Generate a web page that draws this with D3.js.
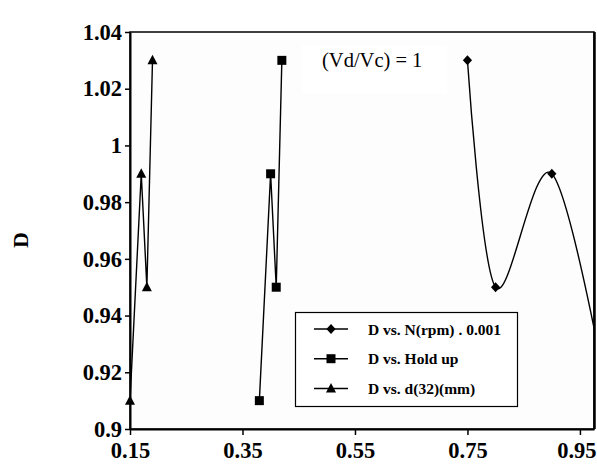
<!DOCTYPE html>
<html>
<head>
<meta charset="utf-8">
<script src="https://cdn.jsdelivr.net/npm/d3@7"></script>
<style>
  html, body { margin: 0; padding: 0; background: #ffffff; }
  svg { display: block; }
  text { font-family: "Liberation Serif", "Times New Roman", serif; fill: #000; }
</style>
</head>
<body>
<svg id="chart" width="597" height="464"></svg>
<script>
// D measured against three different variables
const dValues = [0.91, 0.99, 0.95, 1.03];
const rpmScaled = [1.00, 0.90, 0.80, 0.75];   // N(rpm) . 0.001
const holdUp = [0.38, 0.40, 0.41, 0.42];
const d32 = [0.15, 0.17, 0.18, 0.19];          // d(32) in mm

const seriesNames = ["D vs. N(rpm) . 0.001", "D vs. Hold up", "D vs. d(32)(mm)"];
const seriesMarkers = ["diamond", "square", "triangle"];
const seriesSmooth = [true, false, false];

const xTicks = [0.15, 0.35, 0.55, 0.75, 0.95];
const yTicks = [0.9, 0.92, 0.94, 0.96, 0.98, 1, 1.02, 1.04];
const xDomain = [0.15, 0.975];
const yDomain = [0.9, 1.04];
const yTitle = "D";
const note = "(Vd/Vc) = 1";

const W = 597, H = 464;
const plot = { left: 130, right: 594, top: 32, bottom: 429 };

const svg = d3.select("#chart");

const x = d3.scaleLinear().domain(xDomain).range([plot.left, plot.right]);
const y = d3.scaleLinear().domain(yDomain).range([plot.bottom, plot.top]);

svg.append("defs").append("clipPath").attr("id", "plotClip")
  .append("rect")
  .attr("x", plot.left).attr("y", plot.top)
  .attr("width", plot.right - plot.left).attr("height", plot.bottom - plot.top);

// plot frame
svg.append("rect")
  .attr("x", plot.left).attr("y", plot.top)
  .attr("width", plot.right - plot.left).attr("height", plot.bottom - plot.top)
  .attr("fill", "#fdfdfd").attr("stroke", "#000").attr("stroke-width", 1.5);
svg.append("line")
  .attr("x1", plot.right + 0.5).attr("x2", plot.right + 0.5)
  .attr("y1", plot.top).attr("y2", plot.bottom)
  .attr("stroke", "#000").attr("stroke-width", 2.5);

// annotation box
svg.append("rect")
  .attr("x", 302).attr("y", 45).attr("width", 145).attr("height", 48)
  .attr("fill", "#ffffff");
svg.append("text")
  .attr("x", 322).attr("y", 67)
  .style("font-size", "20.5px")
  .text(note);

// axes
const fmtX = d3.format(".2f");
const fmtY = v => String(+v.toFixed(2));

const xAxis = svg.append("g")
  .attr("transform", `translate(0,${plot.bottom})`)
  .call(d3.axisBottom(x).tickValues(xTicks).tickFormat(fmtX)
    .tickSizeInner(6).tickSizeOuter(0).tickPadding(7));

const yAxis = svg.append("g")
  .attr("transform", `translate(${plot.left},0)`)
  .call(d3.axisLeft(y).tickValues(yTicks).tickFormat(fmtY)
    .tickSizeInner(5).tickSizeOuter(0).tickPadding(3));

[xAxis, yAxis].forEach(g => {
  g.select(".domain").attr("stroke", "#000").attr("stroke-width", 2);
  g.selectAll(".tick line").attr("stroke", "#000").attr("stroke-width", 1.5);
  g.selectAll(".tick text")
    .style("font-family", "'Liberation Serif', 'Times New Roman', serif")
    .style("font-weight", "bold")
    .style("font-size", "22.5px")
    .attr("fill", "#000");
});

// keep the last x label inside the canvas
xAxis.selectAll(".tick text").each(function () {
  const box = this.getBBox();
  const tx = x(d3.select(this.parentNode).datum());
  const overflow = tx + box.x + box.width - (W - 1);
  if (overflow > 0) d3.select(this).attr("x", -overflow);
});

svg.append("text")
  .attr("transform", `translate(28,240) rotate(-90)`)
  .attr("text-anchor", "middle")
  .style("font-weight", "bold")
  .style("font-size", "22px")
  .text(yTitle);

// marker shapes, centred on the origin
function markerPath(kind) {
  const p = d3.path();
  if (kind === "diamond") {
    p.moveTo(0, -5); p.lineTo(4.6, 0); p.lineTo(0, 5); p.lineTo(-4.6, 0); p.closePath();
  } else if (kind === "square") {
    p.rect(-4.5, -4.5, 9, 9);
  } else {
    p.moveTo(0, -5.5); p.lineTo(5, 4); p.lineTo(-5, 4); p.closePath();
  }
  return p.toString();
}

const seriesX = [rpmScaled, holdUp, d32];
const series = seriesNames.map((name, i) => ({
  name,
  marker: seriesMarkers[i],
  smooth: seriesSmooth[i],
  points: dValues.map((d, j) => ({ x: seriesX[i][j], y: d }))
}));

const lineGroup = svg.append("g").attr("clip-path", "url(#plotClip)");
series.forEach(s => {
  const gen = d3.line()
    .x(d => x(d.x)).y(d => y(d.y))
    .curve(s.smooth ? d3.curveCardinal.tension(0) : d3.curveLinear);
  lineGroup.append("path")
    .datum(s.points)
    .attr("d", gen)
    .attr("fill", "none")
    .attr("stroke", "#000")
    .attr("stroke-width", 1.4);
});

series.forEach(s => {
  svg.append("g").selectAll("path")
    .data(s.points.filter(d => d.x >= xDomain[0] && d.x <= xDomain[1]))
    .join("path")
    .attr("transform", d => `translate(${x(d.x)},${y(d.y)})`)
    .attr("d", markerPath(s.marker))
    .attr("fill", "#000");
});

// legend
const legend = svg.append("g");
legend.append("rect")
  .attr("x", 295.5).attr("y", 312.5).attr("width", 222).attr("height", 94)
  .attr("fill", "#ffffff").attr("stroke", "#000").attr("stroke-width", 1.2);
const rowY = [329, 358.7, 388.5];
series.forEach((s, i) => {
  const g = legend.append("g").attr("transform", `translate(0,${rowY[i]})`);
  g.append("line").attr("x1", 314).attr("x2", 348).attr("y1", 0).attr("y2", 0)
    .attr("stroke", "#000").attr("stroke-width", 1.4);
  g.append("path").attr("transform", "translate(331,0)")
    .attr("d", markerPath(s.marker)).attr("fill", "#000");
  g.append("text").attr("x", 368).attr("y", 5.5)
    .style("font-weight", "bold").style("font-size", "15.5px")
    .text(s.name);
});
</script>
</body>
</html>
